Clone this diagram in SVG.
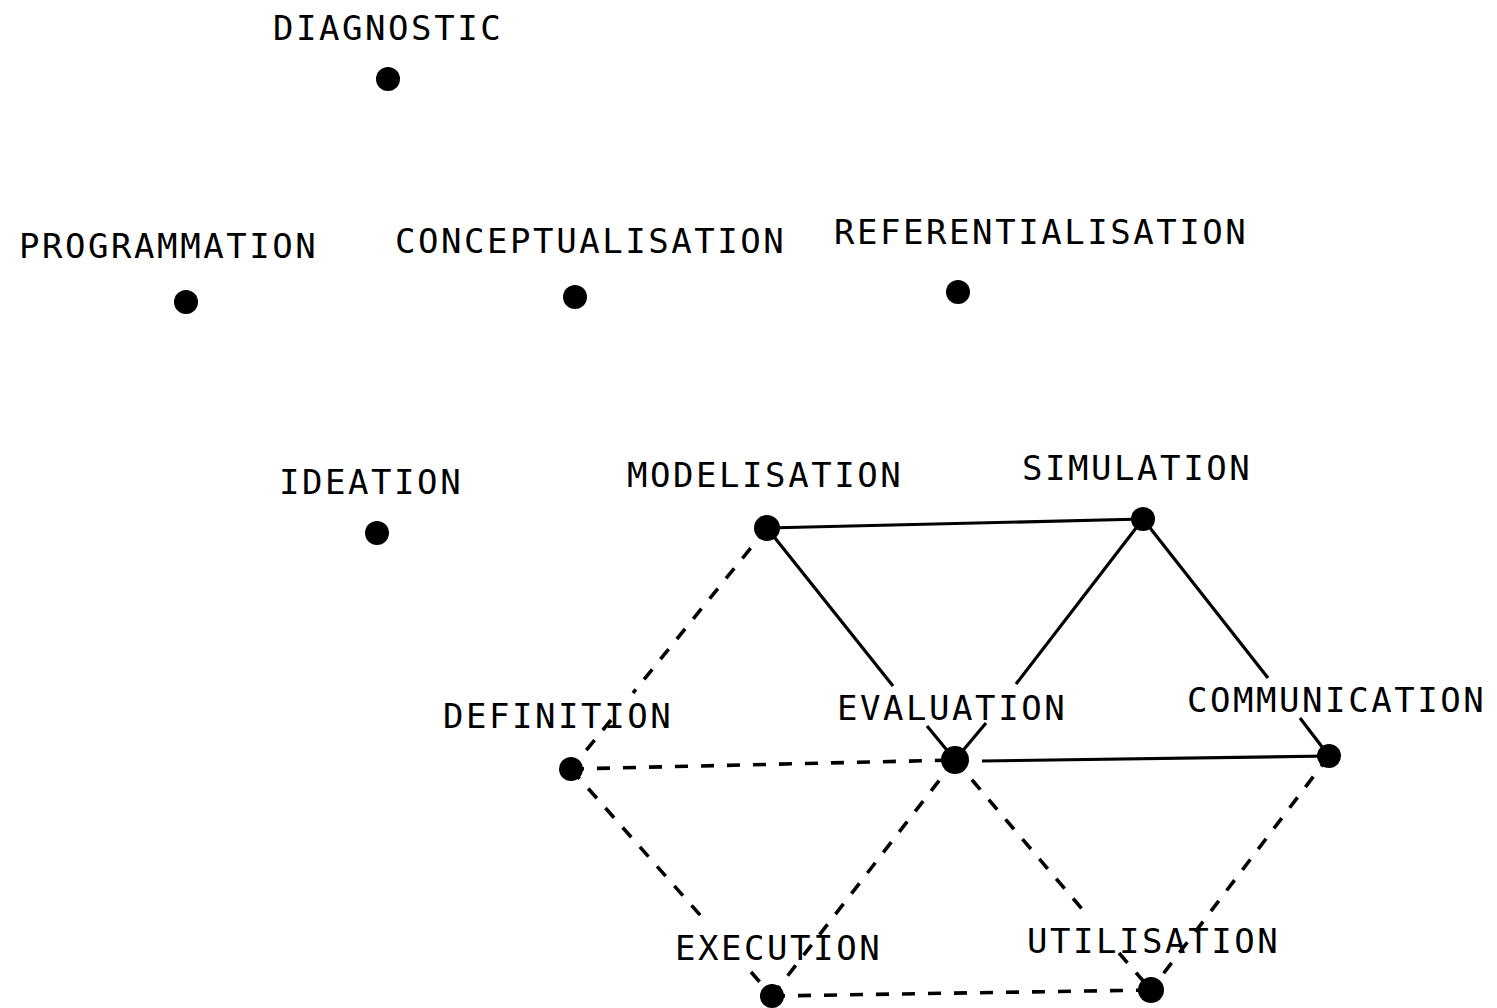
<svg xmlns="http://www.w3.org/2000/svg" width="1497" height="1008" viewBox="0 0 1497 1008">
<style>
  text { font-family: "DejaVu Sans Mono", "Liberation Mono", monospace; font-size: 34px; letter-spacing: 2.55px; fill: #000; }
  .dot { fill: #000; }
  .solid { stroke: #000; stroke-width: 3.2; fill: none; stroke-linecap: butt; }
  .dash { stroke: #000; stroke-width: 3.6; fill: none; stroke-dasharray: 13 13; }
</style>
<rect width="1497" height="1008" fill="#fff"/>
<g id="connectors">
  <line class="solid" x1="767" y1="528" x2="1143" y2="519"/>
  <line class="solid" x1="767" y1="528" x2="893" y2="686"/>
  <line class="solid" x1="927" y1="726" x2="955" y2="760"/>
  <line class="solid" x1="1143" y1="519" x2="1016" y2="684"/>
  <line class="solid" x1="986" y1="723" x2="955" y2="760"/>
  <line class="solid" x1="1143" y1="519" x2="1268" y2="678"/>
  <line class="solid" x1="1300" y1="718" x2="1329" y2="756"/>
  <line class="solid" x1="982" y1="761" x2="1329" y2="756"/>
  <path class="dash" d="M767,528 L633,693 M611,720 L571,769"/>
  <line class="dash" x1="571" y1="769" x2="955" y2="760"/>
  <path class="dash" d="M571,769 L708,924 M751,972 L772,996"/>
  <line class="dash" x1="955" y1="760" x2="772" y2="996"/>
  <path class="dash" d="M955,760 L1088,916 M1119,953 L1151,990"/>
  <line class="dash" x1="1329" y1="756" x2="1151" y2="990"/>
  <line class="dash" x1="772" y1="996" x2="1151" y2="990"/>
</g>
<g id="diagnostic"><text x="273" y="40">DIAGNOSTIC</text><circle class="dot" cx="388" cy="79" r="12"/></g>
<g id="programmation"><text x="19" y="258">PROGRAMMATION</text><circle class="dot" cx="186" cy="302" r="12"/></g>
<g id="conceptualisation"><text x="395" y="253">CONCEPTUALISATION</text><circle class="dot" cx="575" cy="297" r="12"/></g>
<g id="referentialisation"><text x="834" y="244">REFERENTIALISATION</text><circle class="dot" cx="958" cy="292" r="12"/></g>
<g id="ideation"><text x="279" y="494">IDEATION</text><circle class="dot" cx="377" cy="533" r="12"/></g>
<g id="modelisation"><text x="627" y="487">MODELISATION</text><circle class="dot" cx="767" cy="528" r="13"/></g>
<g id="simulation"><text x="1022" y="480">SIMULATION</text><circle class="dot" cx="1143" cy="519" r="12"/></g>
<g id="definition"><text x="443" y="728">DEFINITION</text><circle class="dot" cx="571" cy="769" r="12"/></g>
<g id="evaluation"><text x="837" y="720">EVALUATION</text><circle class="dot" cx="955" cy="760" r="14"/></g>
<g id="communication"><text x="1187" y="712">COMMUNICATION</text><circle class="dot" cx="1329" cy="756" r="12"/></g>
<g id="execution"><text x="675" y="960">EXECUTION</text><circle class="dot" cx="772" cy="996" r="12"/></g>
<g id="utilisation"><text x="1027" y="953">UTILISATION</text><circle class="dot" cx="1151" cy="990" r="13"/></g>
</svg>
